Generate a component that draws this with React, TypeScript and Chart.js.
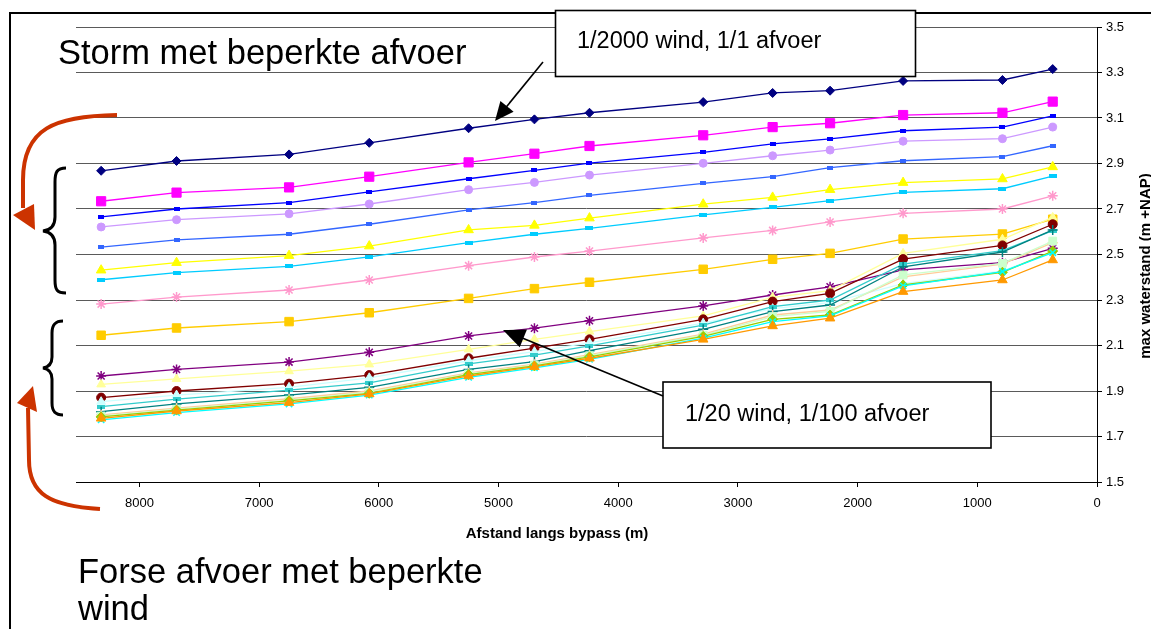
import React, { useEffect, useRef } from 'react';
import { Chart, registerables } from 'chart.js';

Chart.register(...registerables);

// Distance along bypass (m)
const distances = [8320, 7690, 6750, 6080, 5250, 4700, 4240, 3290, 2710, 2230, 1620, 790, 370];

// max waterstand (m +NAP) per scenario
const s01 = [2.868, 2.911, 2.940, 2.991, 3.055, 3.094, 3.123, 3.170, 3.210, 3.220, 3.263, 3.267, 3.315];
const s02 = [2.734, 2.772, 2.795, 2.842, 2.905, 2.943, 2.977, 3.024, 3.060, 3.077, 3.113, 3.123, 3.172];
const s03 = [2.665, 2.700, 2.728, 2.775, 2.833, 2.870, 2.902, 2.949, 2.986, 3.008, 3.044, 3.060, 3.109];
const s04 = [2.621, 2.653, 2.679, 2.722, 2.785, 2.817, 2.849, 2.901, 2.934, 2.959, 2.998, 3.009, 3.060];
const s05 = [2.532, 2.564, 2.589, 2.633, 2.696, 2.728, 2.760, 2.813, 2.842, 2.882, 2.912, 2.930, 2.978];
const s06 = [2.431, 2.464, 2.495, 2.537, 2.608, 2.628, 2.660, 2.721, 2.751, 2.785, 2.816, 2.832, 2.885];
const s07 = [2.389, 2.420, 2.448, 2.490, 2.552, 2.589, 2.615, 2.674, 2.707, 2.737, 2.773, 2.789, 2.844];
const s08 = [2.282, 2.313, 2.344, 2.388, 2.451, 2.489, 2.515, 2.573, 2.606, 2.643, 2.681, 2.700, 2.758];
const s09 = [2.145, 2.177, 2.205, 2.244, 2.307, 2.350, 2.378, 2.435, 2.479, 2.505, 2.568, 2.590, 2.655];
const s10 = [1.966, 1.995, 2.027, 2.070, 2.142, 2.176, 2.209, 2.274, 2.322, 2.358, 2.432, 2.464, 2.527];
const s11 = [1.929, 1.953, 1.987, 2.017, 2.083, 2.127, 2.161, 2.230, 2.312, 2.341, 2.505, 2.567, 2.663];
const s12 = [1.871, 1.900, 1.932, 1.970, 2.044, 2.088, 2.127, 2.215, 2.293, 2.329, 2.480, 2.540, 2.633];
const s13 = [1.853, 1.882, 1.916, 1.958, 2.033, 2.073, 2.112, 2.198, 2.262, 2.288, 2.372, 2.428, 2.510];
const s14 = [1.831, 1.864, 1.904, 1.936, 2.019, 2.058, 2.098, 2.190, 2.271, 2.300, 2.458, 2.517, 2.605];
const s15 = [1.809, 1.843, 1.882, 1.916, 1.995, 2.029, 2.077, 2.171, 2.249, 2.278, 2.446, 2.511, 2.608];
const s16 = [1.795, 1.825, 1.866, 1.900, 1.980, 2.018, 2.060, 2.150, 2.234, 2.256, 2.402, 2.458, 2.552];
const s17 = [1.790, 1.820, 1.860, 1.895, 1.975, 2.014, 2.055, 2.145, 2.227, 2.250, 2.410, 2.461, 2.559];
const s18 = [1.786, 1.816, 1.857, 1.890, 1.972, 2.010, 2.050, 2.140, 2.215, 2.234, 2.366, 2.422, 2.515];
const s19 = [1.773, 1.805, 1.843, 1.882, 1.960, 2.002, 2.039, 2.132, 2.205, 2.230, 2.362, 2.425, 2.508];
const s20 = [1.780, 1.812, 1.849, 1.887, 1.966, 2.007, 2.044, 2.127, 2.186, 2.220, 2.337, 2.388, 2.476];

const allSeries = [s01, s02, s03, s04, s05, s06, s07, s08, s09, s10, s11, s12, s13, s14, s15, s16, s17, s18, s19, s20];

const seriesColors = [
  '#000080', '#FF00FF', '#0000FF', '#CC99FF', '#3366FF', '#FFFF00', '#00CCFF', '#FF99CC', '#FFCC00', '#800080',
  '#FFFF99', '#800000', '#CCFFFF', '#33CCCC', '#008080', '#FFCC99', '#CCFFCC', '#99CC00', '#00FFFF', '#FF9900',
];
// marker kind and size
const seriesMarkers = [
  'rectRot', 'rect', 'dash', 'circle', 'dash', 'triangle', 'dashWide', 'star', 'rect', 'star',
  'triangle', 'circle', 'triangle', 'dashWide', 'cross', 'cross', 'rect', 'rectRot', 'crossRot', 'triangle',
];
const seriesMarkerRadius = [4.5, 6.5, 0, 4, 0, 5.5, 0, 5, 6, 5, 5, 4.5, 5, 0, 5, 5, 5.5, 5, 4.5, 5.5];

const xTicks = [0, 1000, 2000, 3000, 4000, 5000, 6000, 7000, 8000];
const yTicks = [1.5, 1.7, 1.9, 2.1, 2.3, 2.5, 2.7, 2.9, 3.1, 3.3, 3.5];

const FONT = '"Liberation Sans", Arial, Helvetica, sans-serif';
const RED = '#CC3300';

function dashCanvas(w: number, h: number, color: string) {
  const c = document.createElement('canvas');
  c.width = w;
  c.height = h;
  const g = c.getContext('2d')!;
  g.fillStyle = color;
  g.fillRect(0, 0, w, h);
  return c;
}

function headPoints(x1: number, y1: number, x2: number, y2: number, len: number, hw: number) {
  const dx = x2 - x1, dy = y2 - y1;
  const L = Math.hypot(dx, dy);
  const ux = dx / L, uy = dy / L;
  const bx = x2 - ux * len, by = y2 - uy * len;
  const px = -uy, py = ux;
  return `${x2},${y2} ${bx + px * hw},${by + py * hw} ${bx - px * hw},${by - py * hw}`;
}

function ChartCanvas() {
  const ref = useRef<HTMLCanvasElement | null>(null);
  useEffect(() => {
    if (!ref.current) return;
    const datasets = allSeries.map((vals, i) => {
      const color = seriesColors[i];
      const m = seriesMarkers[i];
      let pointStyle: any = m;
      if (m === 'dash') pointStyle = dashCanvas(6, 4, color);
      if (m === 'dashWide') pointStyle = dashCanvas(8, 4, color);
      return {
        label: 'serie ' + (i + 1),
        data: distances.map((d, j) => ({ x: d, y: vals[j] })),
        borderColor: color,
        backgroundColor: color,
        borderWidth: 1.3,
        pointStyle,
        pointRadius: seriesMarkerRadius[i] || 4,
        pointBackgroundColor: color,
        pointBorderColor: color,
        pointBorderWidth: m === 'star' || m === 'cross' || m === 'crossRot' ? 1.5 : 1,
        tension: 0,
        order: -i,
      };
    });
    const chart = new Chart(ref.current, {
      type: 'line',
      data: { datasets },
      options: {
        responsive: false,
        animation: false,
        devicePixelRatio: 1,
        layout: { padding: { left: 76, top: 27, right: 0, bottom: 0 } },
        plugins: {
          legend: { display: false },
          tooltip: { enabled: false },
          title: { display: false },
        },
        scales: {
          x: {
            type: 'linear',
            reverse: true,
            min: 0,
            max: 8530,
            position: 'bottom',
            afterBuildTicks: (s: any) => {
              s.ticks = xTicks.map((v) => ({ value: v }));
            },
            afterFit: (s: any) => {
              s.height = 147;
            },
            ticks: {
              autoSkip: false,
              maxRotation: 0,
              color: '#000',
              padding: 9,
              font: { family: FONT, size: 13 },
              callback: (v: any) => String(v),
            },
            grid: { drawOnChartArea: false, drawTicks: true, tickLength: 5, color: '#000' },
            border: { color: '#000', width: 1 },
          },
          y: {
            type: 'linear',
            position: 'right',
            min: yTicks[0],
            max: yTicks[yTicks.length - 1],
            afterBuildTicks: (s: any) => {
              s.ticks = yTicks.map((v) => ({ value: v }));
            },
            afterFit: (s: any) => {
              s.width = 54;
            },
            ticks: {
              color: '#000',
              padding: 4,
              font: { family: FONT, size: 13 },
              callback: (v: any) => Number(v).toFixed(1),
            },
            grid: { color: '#5a5a5a', tickColor: '#000', tickLength: 5, lineWidth: 1 },
            border: { color: '#000', width: 1 },
          },
        },
      },
    });
    return () => chart.destroy();
  }, []);
  return <canvas ref={ref} width={1151} height={629} style={{ position: 'absolute', left: 0, top: 0, width: 1151, height: 629 }} />;
}

export default function App() {
  return (
    <div style={{ position: 'fixed', left: 0, top: 0, width: 1151, height: 629, background: '#fff', overflow: 'hidden' }}>
      <ChartCanvas />
      <svg width={1151} height={629} style={{ position: 'absolute', left: 0, top: 0 }} fontFamily={FONT}>
        {/* frame */}
        <line x1={9} y1={13} x2={1151} y2={13} stroke="#000" strokeWidth={2} />
        <line x1={10} y1={12} x2={10} y2={629} stroke="#000" strokeWidth={2} />

        {/* axis titles */}
        <text x={557} y={538} textAnchor="middle" fontWeight="bold" fontSize={15} fill="#000">
          Afstand langs bypass (m)
        </text>
        <text transform="translate(1150,266) rotate(-90)" textAnchor="middle" fontWeight="bold" fontSize={15} fill="#000">
          max waterstand (m +NAP)
        </text>

        {/* big labels */}
        <text x={58} y={64} fontSize={34.5} fill="#000">Storm met beperkte afvoer</text>
        <text x={78} y={583} fontSize={34.5} fill="#000">Forse afvoer met beperkte</text>
        <text x={78} y={620} fontSize={34.5} fill="#000">wind</text>

        {/* text box 1 */}
        <rect x={555.5} y={10.5} width={360} height={66} fill="#fff" stroke="#000" strokeWidth={1.6} />
        <text x={577} y={48} fontSize={23.5} fill="#000">1/2000 wind, 1/1 afvoer</text>
        <line x1={543} y1={62} x2={503} y2={111} stroke="#000" strokeWidth={1.6} />
        <polygon points={headPoints(543, 62, 495, 121, 19, 8.5)} fill="#000" />

        {/* text box 2 */}
        <rect x={663} y={382} width={328} height={66} fill="#fff" stroke="#000" strokeWidth={1.6} />
        <text x={685} y={421} fontSize={23.5} fill="#000">1/20 wind, 1/100 afvoer</text>
        <line x1={663} y1={396} x2={515} y2={335} stroke="#000" strokeWidth={1.6} />
        <polygon points={headPoints(663, 396, 503, 330, 22, 9.5)} fill="#000" />

        {/* braces */}
        <path d="M 66 168 C 57 168, 55 172, 55 182 L 55 217 C 55 226, 51 230, 43 231 C 51 232, 55 236, 55 245 L 55 280 C 55 290, 57 293, 66 293"
          fill="none" stroke="#000" strokeWidth={3} />
        <path d="M 63 321 C 55 321, 52 325, 52 333 L 52 357 C 52 364, 49 367, 43 368 C 49 369, 52 372, 52 379 L 52 403 C 52 411, 55 415, 63 415"
          fill="none" stroke="#000" strokeWidth={3} />

        {/* red curved arrows */}
        <path d="M 117 115 C 55 116, 23 128, 23 180 L 23 208" fill="none" stroke={RED} strokeWidth={4} />
        <polygon points="13,215 34,204 35,230" fill={RED} />
        <path d="M 100 509 C 50 506, 29 494, 29 460 L 28 408" fill="none" stroke={RED} strokeWidth={4} />
        <polygon points="17,403 33,386 37,412" fill={RED} />
      </svg>
    </div>
  );
}
